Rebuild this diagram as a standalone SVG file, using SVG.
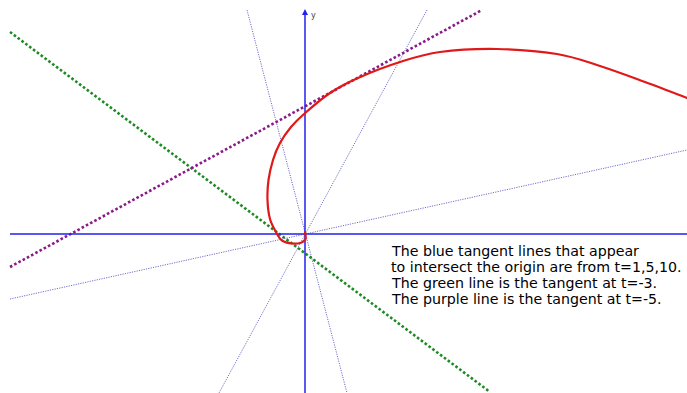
<svg xmlns="http://www.w3.org/2000/svg" width="687" height="393" viewBox="0 0 687 393">
<style>
.axis{stroke:#2222ee;stroke-width:1.5;fill:none}
.blue{stroke:#6f6fc8;stroke-width:1;stroke-dasharray:1.2 1.2;fill:none}
.green{stroke:#1f8a24;stroke-width:2.6;stroke-dasharray:2.6 2.2;fill:none}
.purple{stroke:#8a1a8a;stroke-width:2.6;stroke-dasharray:2.6 2.2;fill:none}
.curve{stroke:#e01818;stroke-width:2.2;fill:none;stroke-linecap:round}
.note{font-family:"DejaVu Sans",Verdana,sans-serif;font-size:14.2px;fill:#000}
.lbl{font-family:"DejaVu Sans",sans-serif;font-size:8px;fill:#444}
</style>
<rect width="687" height="393" fill="#fff"/>
<g id="connectors">
<line class="blue" x1="247" y1="10" x2="347" y2="393"/>
<line class="blue" x1="427" y1="10" x2="219" y2="393"/>
<line class="blue" x1="10" y1="299" x2="687" y2="150"/>
<line class="green" x1="10" y1="32" x2="490" y2="392"/>
<line class="purple" x1="10" y1="267" x2="482" y2="10"/>
</g>
<g id="axes">
<line class="axis" x1="10" y1="234" x2="687" y2="234"/>
<line class="axis" x1="305" y1="393" x2="305" y2="14"/>
<path d="M302,15 L305,9 L308,15 Z" fill="#2222ee"/>
<text class="lbl" x="311" y="18">y</text>
</g>
<g id="curve">
<path class="curve" d="M305,232 C305.1,233.2 306.2,237.2 305.5,239 C304.8,240.8 303.25,241.95 301,242.7 C298.75,243.45 295.2,243.87 292,243.5 C288.8,243.1 284.6,242.25 282,240.5 C279.4,238.75 278.5,236.6 276.5,233 C274.5,229.4 271.5,224.5 270,219 C268.5,213.5 267.75,206.5 267.5,200 C267.25,193.5 267.6,186.7 268.5,180 C269.4,173.3 271.1,166.2 273,160 C274.9,153.8 277,148.5 280,143 C283,137.5 287,131.8 291,127 C295,122.2 297.5,119.7 304,114 C310.5,108.3 321,99 330,93 C339,87 346.3,83.2 358,78 C369.7,72.8 386.3,66.3 400,62 C413.7,57.7 423.8,54.2 440,52 C456.2,49.8 477.5,48.7 497,49 C516.5,49.3 539.8,51.2 557,54 C574.2,56.8 585.3,61.3 600,66 C614.7,70.7 630.5,76.7 645,82 C659.5,87.3 680,95.3 687,98"/>
</g>
<g id="note">
<text class="note" x="392" y="256">The blue tangent lines that appear</text>
<text class="note" x="391" y="272">to intersect the origin are from t=1,5,10.</text>
<text class="note" x="392" y="288">The green line is the tangent at t=-3.</text>
<text class="note" x="392" y="304">The purple line is the tangent at t=-5.</text>
</g>
</svg>
